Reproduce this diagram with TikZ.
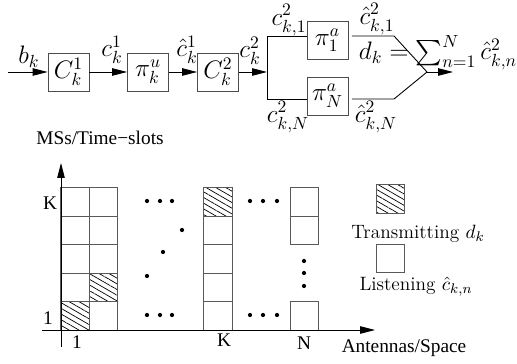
\documentclass[tikz,border=0pt]{standalone}
\usepackage{amsmath,amssymb}
\usepackage{fontspec}
\newfontfamily\tms{Liberation Serif}
\usetikzlibrary{arrows.meta,patterns.meta}

\begin{document}
\begin{tikzpicture}[x=0.02cm, y=-0.02cm, every node/.style={font=\Large, inner sep=0.5pt}, >={Triangle[length=3mm,width=1.5mm]}, line width=0.5pt,
	blk/.style={draw=black!70, minimum width=0.82cm, minimum height=0.76cm, inner sep=0pt},
	cell/.style={draw=black!65, minimum size=0.57cm, inner sep=0pt},
	tx/.style={cell, pattern={Lines[angle=-30,distance=2.8pt,line width=0.4pt]}},
	ax/.style={font=\tms\fontsize{11}{13}\selectfont}, lg/.style={font=\fontsize{11}{13}\selectfont}]
	\useasboundingbox (0,0) rectangle (517,364);
	\coordinate (in) at (8,72); \coordinate (s) at (267,72); \coordinate (s1) at (267,36); \coordinate (sN) at (267,99);
	\coordinate (j1) at (394,36); \coordinate (jN) at (394,99); \coordinate (m) at (427,72); \coordinate (out) at (453,72);
	\node[blk] (C1) at (68.5,72) {$C_k^1$}; \node[blk] (Pu) at (148,72) {$\pi_k^u$}; \node[blk] (C2) at (218,72) {$C_k^2$};
	\node[blk] (P1) at (327.5,40) {$\pi_1^a$}; \node[blk] (PN) at (327.5,96) {$\pi_N^a$};
	\draw[->] (in) -- (C1); \draw[->] (C1) -- (Pu); \draw[->] (Pu) -- (C2); \draw[->] (C2) -- (s);
	\draw (s1) -- (sN); \draw (s1) -- (s1 -| P1.west); \draw (sN) -- (sN -| PN.west);
	\draw[shorten <=2pt] (s1 -| P1.east) -- (j1) -- (m); \draw[shorten <=2pt] (sN -| PN.east) -- (jN) -- (m);
	\draw[->] (m) -- (out);
	\node (bk) at (29,57) {$b_k$}; \node (c1) at (112,50) {$c_k^1$}; \node (hc1) at (187,50) {$\hat{c}_k^1$}; \node (c2) at (250,51) {$c_k^2$};
	\node (c21) at (289,20) {$c_{k,1}^2$}; \node (c2N) at (288,117) {$c_{k,N}^2$}; \node (hc21) at (377,19) {$\hat{c}_{k,1}^2$}; \node (hc2N) at (376,117) {$\hat{c}_{k,N}^2$};
	\node (dk) at (438,53) {$d_k=\sum_{n=1}^N\hat{c}_{k,n}^2$};
	\coordinate (yb) at (61,347); \coordinate (yt) at (61,163); \coordinate (xl) at (42,330); \coordinate (xr) at (375,330);
	\foreach \r/\st in {1/tx,2/cell,3/cell,4/cell,5/cell} \node[\st] (a\r) at (75,{344.25-28.5*\r}) {};
	\foreach \r/\st in {1/cell,2/tx,3/cell,4/cell,5/cell} \node[\st] (b\r) at (103.5,{344.25-28.5*\r}) {};
	\foreach \r/\st in {1/cell,2/cell,3/cell,4/cell,5/tx} \node[\st] (k\r) at (218,{344.25-28.5*\r}) {};
	\foreach \r in {1,4,5} \node[cell] (n\r) at (304.5,{344.25-28.5*\r}) {};
	\draw[->] (yb) -- (yt); \draw[->] (xl) -- (xr);
	\foreach \x in {147,160,172,250,263,277} {\fill (\x,201) circle (1.2pt); \fill (\x,315) circle (1.2pt);}
	\foreach \x/\y in {147/276,163/252,182/230,304/261,304/273,304/286} \fill (\x,\y) circle (1.2pt);
	\node[ax] (yl) at (100,138) {MSs/Time−slots}; \node[ax] (xlab) at (404,348) {Antennas/Space};
	\node[ax] (lK) at (50,203) {K}; \node[ax] (l1) at (48,318) {1}; \node[ax] (t1) at (77,342) {1}; \node[ax] (tK) at (224,340) {K}; \node[ax] (tN) at (304,343) {N};
	\node[tx] (lt) at (390.5,199) {}; \node[lg] (ltt) at (418,234) {Transmitting $d_k$};
	\node[cell] (ll) at (390.5,258.5) {}; \node[lg] (llt) at (416,287) {Listening $\hat{c}_{k,n}$};
\end{tikzpicture}
\end{document}
